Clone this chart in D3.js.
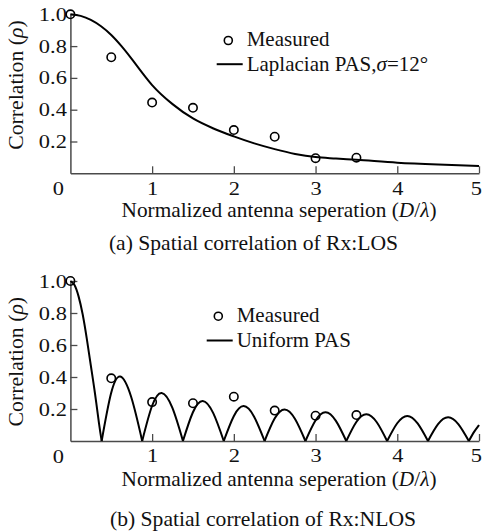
<!DOCTYPE html>
<html>
<head>
<meta charset="utf-8">
<script src="https://cdn.jsdelivr.net/npm/d3@7"></script>
<style>
  body { margin: 0; background: #fff; }
  svg { display: block; }
  text { font-family: "Liberation Serif", "Times New Roman", serif; fill: #111; }
</style>
</head>
<body>
<svg id="chart" width="483" height="531"></svg>
<script>
// Axis ticks
const xTicks = [1, 2, 3, 4, 5];
const yTicks = [0.2, 0.4, 0.6, 0.8, 1.0];

// Measured correlation at each antenna separation (D/lambda)
const measuredX = [0, 0.5, 1, 1.5, 2, 2.5, 3, 3.5];
const losMeasured = [1.0, 0.73, 0.445, 0.412, 0.272, 0.23, 0.095, 0.098];
const nlosMeasured = [1.0, 0.392, 0.243, 0.236, 0.277, 0.19, 0.158, 0.162];

// Laplacian PAS model curve (LOS)
const losCurveX = [0, 0.125, 0.25, 0.375, 0.5, 0.625, 0.75, 0.875, 1.0, 1.25, 1.5, 1.75,
                   2.0, 2.25, 2.5, 2.75, 3.0, 3.25, 3.5, 4.0, 4.5, 5.0];
const losCurveY = [1.0, 0.99, 0.965, 0.925, 0.87, 0.80, 0.72, 0.635, 0.555, 0.435, 0.345, 0.282,
                   0.232, 0.188, 0.152, 0.122, 0.102, 0.093, 0.085, 0.067, 0.055, 0.046];

// Uniform PAS model curve (NLOS): main lobe, then side lobes null-to-null
const nlosCurveX = [0, 0.05, 0.1, 0.15, 0.2, 0.25, 0.3, 0.35, 0.3827,
                    0.496, 0.6098, 0.744, 0.8786,
                    0.9976, 1.1166, 1.247, 1.3773,
                    1.498, 1.6192, 1.748, 1.8767,
                    1.999, 2.1205, 2.248, 2.3763,
                    2.499, 2.6214, 2.749, 2.8761,
                    2.999, 3.122, 3.249, 3.3759,
                    3.499, 3.6224, 3.749, 3.8758,
                    3.999, 4.1227, 4.249, 4.3757,
                    4.499, 4.6229, 4.749, 4.8756,
                    4.94, 5.0];
const nlosCurveY = [1.0, 0.975, 0.904, 0.792, 0.641, 0.472, 0.300, 0.110, 0,
                    0.295, 0.403, 0.275, 0,
                    0.217, 0.300, 0.208, 0,
                    0.178, 0.250, 0.174, 0,
                    0.155, 0.218, 0.152, 0,
                    0.140, 0.197, 0.138, 0,
                    0.128, 0.180, 0.126, 0,
                    0.119, 0.167, 0.117, 0,
                    0.111, 0.157, 0.110, 0,
                    0.105, 0.148, 0.104, 0,
                    0.057, 0.100];

const panels = [
  {
    measured: losMeasured, curveX: losCurveX, curveY: losCurveY, split: false,
    yRange: [173.3, 14.3], yTitleY: 85,
    legend: ["Measured", "Laplacian PAS,", "12°"], legendSigma: true,
    legendX: 216.7, legendY1: 46, legendY2: 70.7,
    xTitleY: 216.7, caption: "(a) Spatial correlation of Rx:LOS", captionX: 253.5, captionY: 250
  },
  {
    measured: nlosMeasured, curveX: nlosCurveX, curveY: nlosCurveY, split: true,
    yRange: [441, 281], yTitleY: 361.7,
    legend: ["Measured", "Uniform PAS"], legendSigma: false,
    legendX: 206.7, legendY1: 321.7, legendY2: 347,
    xTitleY: 486, caption: "(b) Spatial correlation of Rx:NLOS", captionX: 263, captionY: 526
  }
];

const svg = d3.select("#chart");
const x = d3.scaleLinear().domain([0, 5]).range([70.4, 479]);
const AXIS = "#4a4a4a";
const TICK_FONT = 19, TICK_SX = 1.18;

// text placed at (px, py), stretched horizontally by sx
function wideText(parent, px, py, sx, size, anchor) {
  return parent.append("text")
    .attr("transform", `translate(${px},${py}) scale(${sx},1)`)
    .attr("text-anchor", anchor).attr("font-size", size);
}

panels.forEach(p => {
  const y = d3.scaleLinear().domain([0, 1]).range(p.yRange);
  const g = svg.append("g");

  // x axis, ticks pointing inward
  const xa = g.append("g")
    .attr("transform", `translate(0,${y(0)})`)
    .call(d3.axisBottom(x).tickValues(xTicks).tickSize(-7).tickSizeOuter(0).tickPadding(8)
      .tickFormat(d3.format("d")));
  xa.attr("font-family", null);
  xa.select(".domain").attr("stroke", AXIS).attr("stroke-width", 1.5);
  xa.selectAll(".tick line").attr("stroke", AXIS).attr("stroke-width", 1.3);
  xa.selectAll(".tick text").attr("font-size", TICK_FONT).attr("fill", "#111")
    .attr("transform", `scale(${TICK_SX},1)`);
  // the last label sits against the right edge of the page
  xa.selectAll(".tick text").filter(d => d === 5).attr("x", -2.6);
  // origin label shared by both axes
  wideText(g, x(0) - 12, y(0) + 8, TICK_SX, TICK_FONT, "middle").attr("dy", "0.71em").text("0");

  // y axis
  const ya = g.append("g")
    .attr("transform", `translate(${x(0)},0)`)
    .call(d3.axisLeft(y).tickValues(yTicks).tickSize(-7).tickSizeOuter(0).tickPadding(3)
      .tickFormat(d3.format(".1f")));
  ya.attr("font-family", null);
  ya.select(".domain").attr("stroke", AXIS).attr("stroke-width", 1.5);
  ya.selectAll(".tick line").attr("stroke", AXIS).attr("stroke-width", 1.3);
  ya.selectAll(".tick text").attr("font-size", TICK_FONT).attr("fill", "#111")
    .attr("transform", `scale(${TICK_SX},1)`);

  // model curve
  const pts = p.curveX.map((d, i) => [d, p.curveY[i]]);
  const segments = [];
  if (p.split) {
    let cur = [];
    pts.forEach((pt, i) => {
      cur.push(pt);
      if (pt[1] === 0 && i > 0 && i < pts.length - 1) { segments.push(cur); cur = [pt]; }
    });
    segments.push(cur);
  } else {
    segments.push(pts);
  }
  const line = d3.line().x(d => x(d[0])).y(d => y(d[1]))
    .curve(p.split ? d3.curveNatural : d3.curveMonotoneX);
  g.selectAll("path.model").data(segments).join("path")
    .attr("class", "model")
    .attr("d", line).attr("fill", "none").attr("stroke", "#000").attr("stroke-width", 2);

  // measured points
  g.selectAll("circle.meas").data(measuredX).join("circle")
    .attr("class", "meas")
    .attr("cx", d => x(d)).attr("cy", (d, i) => y(p.measured[i]))
    .attr("r", 4.2).attr("fill", "none").attr("stroke", "#000").attr("stroke-width", 1.6);

  // legend
  g.append("circle").attr("cx", p.legendX + 11.6).attr("cy", p.legendY1 - 5.5).attr("r", 4)
    .attr("fill", "none").attr("stroke", "#000").attr("stroke-width", 1.6);
  wideText(g, p.legendX + 30, p.legendY1, 1.05, 20, "start").text(p.legend[0]);
  g.append("line").attr("x1", p.legendX).attr("x2", p.legendX + 26)
    .attr("y1", p.legendY2 - 6.5).attr("y2", p.legendY2 - 6.5).attr("stroke", "#000").attr("stroke-width", 2);
  const lt = wideText(g, p.legendX + 30, p.legendY2, 1.05, 20, "start");
  lt.append("tspan").text(p.legend[1]);
  if (p.legendSigma) {
    lt.append("tspan").attr("font-style", "italic").text("σ");
    lt.append("tspan").text("=" + p.legend[2]);
  }

  // y title
  const yt = g.append("text")
    .attr("transform", `translate(23,${p.yTitleY}) rotate(-90) scale(1.09,1)`)
    .attr("text-anchor", "middle").attr("font-size", 20);
  yt.append("tspan").text("Correlation (");
  yt.append("tspan").attr("font-style", "italic").text("ρ");
  yt.append("tspan").text(")");

  // x title
  const xt = wideText(g, 279, p.xTitleY, 1.065, 20, "middle");
  xt.append("tspan").text("Normalized antenna seperation (");
  xt.append("tspan").attr("font-style", "italic").text("D");
  xt.append("tspan").text("/");
  xt.append("tspan").attr("font-style", "italic").text("λ");
  xt.append("tspan").text(")");

  // caption
  wideText(g, p.captionX, p.captionY, 1.03, 21, "middle").text(p.caption);
});
</script>
</body>
</html>
